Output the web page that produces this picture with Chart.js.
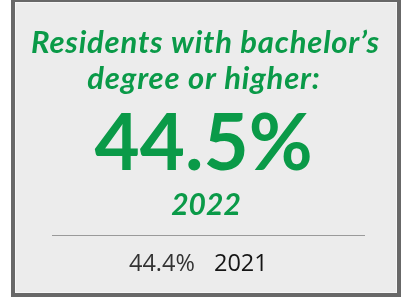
<!DOCTYPE html>
<html>
<head>
<meta charset="utf-8">
<script src="https://cdn.jsdelivr.net/npm/chart.js@4"></script>
<style>
  html, body { margin: 0; padding: 0; background: #ffffff; }
  #wrap { width: 407px; height: 297px; }
</style>
</head>
<body>
<div id="wrap"><canvas id="c" width="407" height="297"></canvas></div>
<script>
// ---- data ----
const titleLines = ["Residents with bachelor\u2019s", "degree or higher:"];
const years = ["2022", "2021"];
const values = [44.5, 44.4];
const valueSuffix = "%";

const GREEN = "#0a9a48";

const cardPlugin = {
  id: "card",
  beforeDraw(chart) {
    const ctx = chart.ctx;
    ctx.save();
    ctx.fillStyle = "#ffffff";
    ctx.fillRect(0, 0, chart.width, chart.height);
    // border
    ctx.fillStyle = "#686868";
    ctx.fillRect(11, -2, 390, 299);
    ctx.fillStyle = "#f6f6f6";
    ctx.fillRect(15, 2, 382, 291);
    ctx.fillStyle = "#ececec";
    ctx.fillRect(16, 3, 380, 289);
    ctx.restore();
  },
  afterDraw(chart) {
    const ctx = chart.ctx;
    const cx = 205;
    ctx.save();
    ctx.textAlign = "center";
    ctx.textBaseline = "alphabetic";
    // heading
    ctx.fillStyle = GREEN;
    ctx.font = "italic 700 31px Lato";
    ctx.letterSpacing = "0.8px";
    ctx.fillText(titleLines[0], cx + 0.5, 53);
    ctx.fillText(titleLines[1], cx - 1, 89);
    ctx.letterSpacing = "0px";
    // big value
    const cur = chart.data.datasets[0].data[0];
    ctx.font = "700 78px Lato";
    ctx.fillText(cur.toFixed(1) + valueSuffix, 203.5, 170);
    // year
    ctx.font = "italic 700 30px Lato";
    ctx.fillText(chart.data.labels[0], 206, 215);
    // divider
    ctx.fillStyle = "#9a9a9a";
    ctx.fillRect(52, 235, 313, 1);
    // previous
    const prev = chart.data.datasets[0].data[1];
    ctx.textAlign = "left";
    ctx.font = "400 23.5px 'Open Sans'";
    ctx.fillStyle = "#333333";
    ctx.fillText(prev.toFixed(1) + valueSuffix, 129, 271);
    ctx.fillStyle = "#151515";
    ctx.fillText(chart.data.labels[1], 214, 271);
    ctx.restore();
  }
};

new Chart(document.getElementById("c"), {
  type: "bar",
  data: {
    labels: years,
    datasets: [{ data: values, backgroundColor: "rgba(0,0,0,0)", borderWidth: 0 }]
  },
  options: {
    responsive: false,
    animation: false,
    events: [],
    layout: { padding: 0 },
    plugins: { legend: { display: false }, tooltip: { enabled: false } },
    scales: { x: { display: false }, y: { display: false } }
  },
  plugins: [cardPlugin]
});
</script>
</body>
</html>
